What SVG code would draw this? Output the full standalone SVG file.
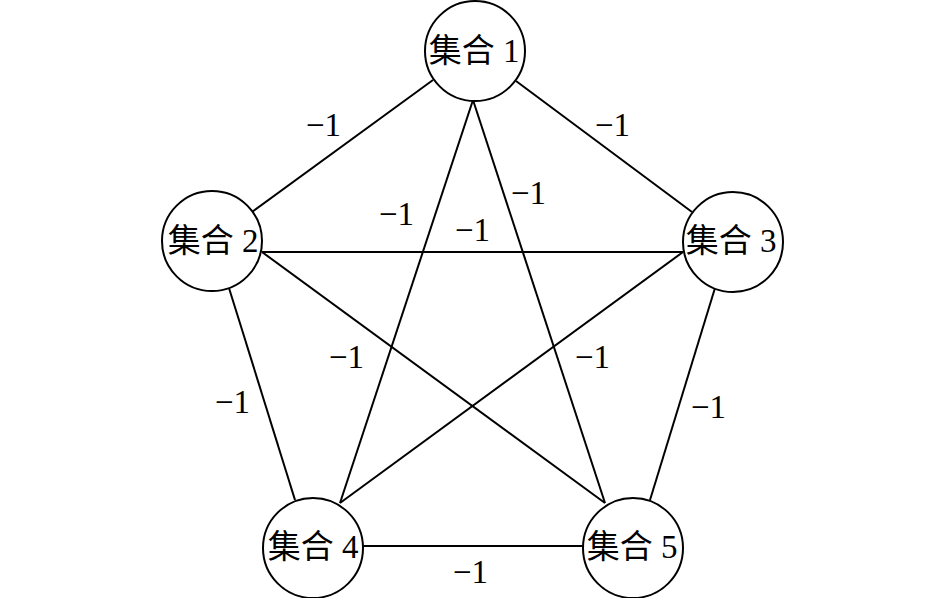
<svg xmlns="http://www.w3.org/2000/svg" width="945" height="598" viewBox="0 0 945 598">
<style>
.node circle{fill:#fff;stroke:#000;stroke-width:2}
.node text{font-family:"Liberation Serif","Noto Sans CJK SC",serif;font-size:33px;fill:#000;text-anchor:middle}
#edges line{stroke:#000;stroke-width:2}
.lbl{font-family:"Liberation Serif",serif;font-size:33px;fill:#000}
</style>
<rect width="945" height="598" fill="#fff"/>
<g id="edges">
<line x1="433" y1="80" x2="252" y2="212"/>
<line x1="516" y1="81" x2="692" y2="212"/>
<line x1="473" y1="100" x2="340" y2="503"/>
<line x1="473" y1="100" x2="605" y2="503"/>
<line x1="262" y1="252" x2="683" y2="252"/>
<line x1="262" y1="252" x2="605" y2="503"/>
<line x1="229" y1="288" x2="295" y2="500"/>
<line x1="683" y1="252" x2="340" y2="503"/>
<line x1="715" y1="288" x2="650" y2="500"/>
<line x1="362" y1="546" x2="583" y2="546"/>
<text class="lbl" x="306" y="136">−1</text>
<text class="lbl" x="595" y="136">−1</text>
<text class="lbl" x="511" y="204">−1</text>
<text class="lbl" x="379" y="225">−1</text>
<text class="lbl" x="455" y="241">−1</text>
<text class="lbl" x="329" y="368">−1</text>
<text class="lbl" x="575" y="368">−1</text>
<text class="lbl" x="215" y="413">−1</text>
<text class="lbl" x="691" y="418">−1</text>
<text class="lbl" x="453" y="583">−1</text>
</g>
<g id="n1" class="node"><circle cx="475" cy="51" r="50"/><text x="474" y="62">集合 1</text></g>
<g id="n2" class="node"><circle cx="212" cy="241" r="50"/><text x="213" y="252">集合 2</text></g>
<g id="n3" class="node"><circle cx="733" cy="242" r="50"/><text x="731" y="252">集合 3</text></g>
<g id="n4" class="node"><circle cx="313" cy="548" r="50"/><text x="313" y="558">集合 4</text></g>
<g id="n5" class="node"><circle cx="633" cy="548" r="50"/><text x="632" y="558">集合 5</text></g>
</svg>
